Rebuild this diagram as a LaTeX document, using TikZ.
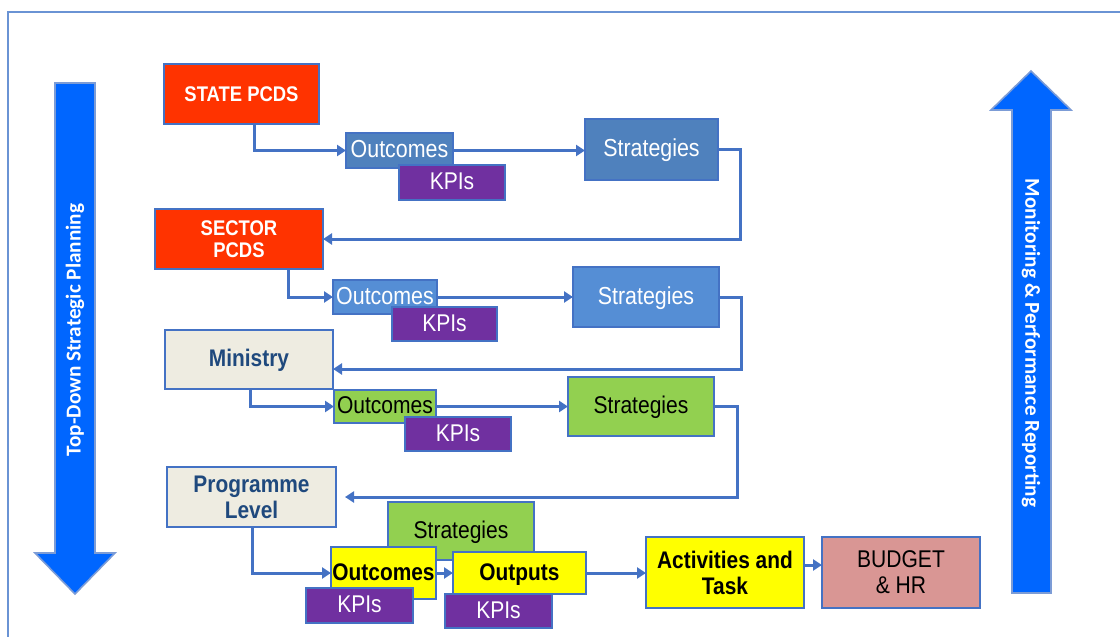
\documentclass[tikz,border=0pt]{standalone}
\usepackage{fontspec}
\setmainfont{Liberation Sans}[FakeStretch=0.87]
\newfontfamily\calfont{Carlito}
\usetikzlibrary{arrows.meta}
\definecolor{pcdsred}{HTML}{FF3300}
\definecolor{blueA}{HTML}{4F81BD}
\definecolor{blueB}{HTML}{558ED5}
\definecolor{greenF}{HTML}{92D050}
\definecolor{purpleF}{HTML}{7030A0}
\definecolor{yellowF}{HTML}{FFFF00}
\definecolor{beigeF}{HTML}{EEECE1}
\definecolor{navyT}{HTML}{1F497D}
\definecolor{budgetF}{HTML}{D99694}
\definecolor{bord}{HTML}{4472C4}
\definecolor{bigblue}{HTML}{0066FF}
\definecolor{framec}{HTML}{6A93D4}
\tikzset{
  bx/.style={draw=bord, line width=1.1pt, inner sep=0pt, outer sep=0pt, align=center},
  oneline/.style={text height=0.72em, text depth=0.02em},
  conn/.style={draw=bord, line width=1.5pt, -{Triangle[length=4.5pt,width=5.5pt]}},
  redbox/.style={fill=pcdsred, text=white, font=\bfseries\fontsize{10.6}{11}\selectfont},
  outA/.style={fill=blueA, text=white, font=\fontsize{12.3}{13}\selectfont},
  outB/.style={fill=blueB, text=white, font=\fontsize{12.3}{13}\selectfont},
  kpi/.style={fill=purpleF, text=white, font=\fontsize{12.1}{13}\selectfont},
  grn/.style={fill=greenF, text=black, font=\fontsize{12.1}{13}\selectfont},
  lvl/.style={fill=beigeF, text=navyT, font=\bfseries\fontsize{12}{13}\selectfont},
  ylw/.style={fill=yellowF, text=black, font=\bfseries\fontsize{12}{13}\selectfont},
  bud/.style={fill=budgetF, text=black, font=\fontsize{12.1}{13}\selectfont},
  bigarrow/.style={fill=bigblue, draw=bord!70, line width=0.8pt},
  sidetext/.style={text=white, font=\calfont\bfseries\fontsize{10.6}{12}\selectfont}
}
\newcommand\bx[7]{\node[bx,#6,minimum width={(#4-#2)*0.5pt},minimum height={(#5-#3)*0.5pt}] (#1) at ({(#2+#4)/2},{(#3+#5)/2}) {#7};}
\begin{document}
\begin{tikzpicture}[x=0.5pt,y=-0.5pt]
\useasboundingbox (0,0) rectangle (1120,637);
% frame
\draw[framec, line width=0.9pt] (8,637) -- (8,12) -- (1120,12);
% big arrows
\draw[bigarrow] (55,83) -- (95,83) -- (95,553) -- (115,553) -- (75,594) -- (35,553) -- (55,553) -- cycle;
\node[sidetext, rotate=90] (tdtext) at (75,330) {Top-Down Strategic Planning};
\draw[bigarrow] (1012,593) -- (1012,110) -- (991,110) -- (1031,71) -- (1071,110) -- (1051,110) -- (1051,593) -- cycle;
\node[sidetext, rotate=-90] (mrtext) at (1031,343) {Monitoring \& Performance Reporting};
% level 1
\bx{state}{164}{64}{319}{124}{redbox,oneline}{STATE PCDS}
\bx{o1}{346}{133}{453}{168}{outA,oneline}{Outcomes}
\bx{k1}{399}{165}{505}{200}{kpi,oneline}{KPIs}
\bx{s1}{585}{119}{718}{180}{outA,oneline}{Strategies}
% level 2
\bx{sector}{155}{209}{323}{269}{redbox}{SECTOR\\PCDS}
\bx{o2}{333}{280}{437}{314}{outB,oneline}{Outcomes}
\bx{k2}{392}{307}{497}{341}{kpi,oneline}{KPIs}
\bx{s2}{573}{267}{719}{327}{outB,oneline}{Strategies}
% level 3
\bx{ministry}{165}{330}{333}{389}{lvl,oneline}{Ministry}
\bx{o3}{334}{390}{436}{423}{grn,oneline}{Outcomes}
\bx{k3}{405}{417}{511}{451}{kpi,oneline}{KPIs}
\bx{s3}{568}{377}{714}{436}{grn,oneline}{Strategies}
% level 4
\bx{prog}{167}{467}{336}{527}{lvl}{Programme\\Level}
\bx{s4}{388}{502}{534}{560}{grn,oneline}{Strategies}
\bx{o4}{331}{547}{436}{599}{ylw,oneline}{Outcomes}
\bx{outp}{453}{552}{586}{594}{ylw,oneline}{Outputs}
\bx{k4}{306}{588}{413}{623}{kpi,oneline}{KPIs}
\bx{k5}{445}{594}{552}{628}{kpi,oneline}{KPIs}
\bx{act}{646}{537}{804}{608}{ylw}{Activities and\\Task}
\bx{budget}{822}{537}{980}{608}{bud}{BUDGET\\\& HR}
% connectors
\draw[conn] ([xshift=6.25pt]state.south) |- (o1.west);
\draw[conn] (o1.east) -- (o1.east -| s1.west);
\draw[conn] (s1.east) -- ++(11pt,0) |- (sector.east);
\draw[conn] ([xshift=24.5pt]sector.south) |- (o2.west);
\draw[conn] (o2.east) -- (o2.east -| s2.west);
\draw[conn] (s2.east) -- ++(11pt,0) |- ([yshift=-4.75pt]ministry.east);
\draw[conn] ([xshift=0.5pt]ministry.south) |- (o3.west);
\draw[conn] (o3.east) -- (o3.east -| s3.west);
\draw[conn] (s3.east) -- ++(11.5pt,0) |- ([xshift=4.5pt]prog.east);
\draw[conn] ([xshift=0.25pt]prog.south) |- (o4.west);
\draw[conn] (o4.east) -- (outp.west);
\draw[conn] (outp.east) -- (outp.east -| act.west);
\draw[conn] ([yshift=3.75pt]act.east) -- ([yshift=3.75pt]budget.west);
\end{tikzpicture}
\end{document}
